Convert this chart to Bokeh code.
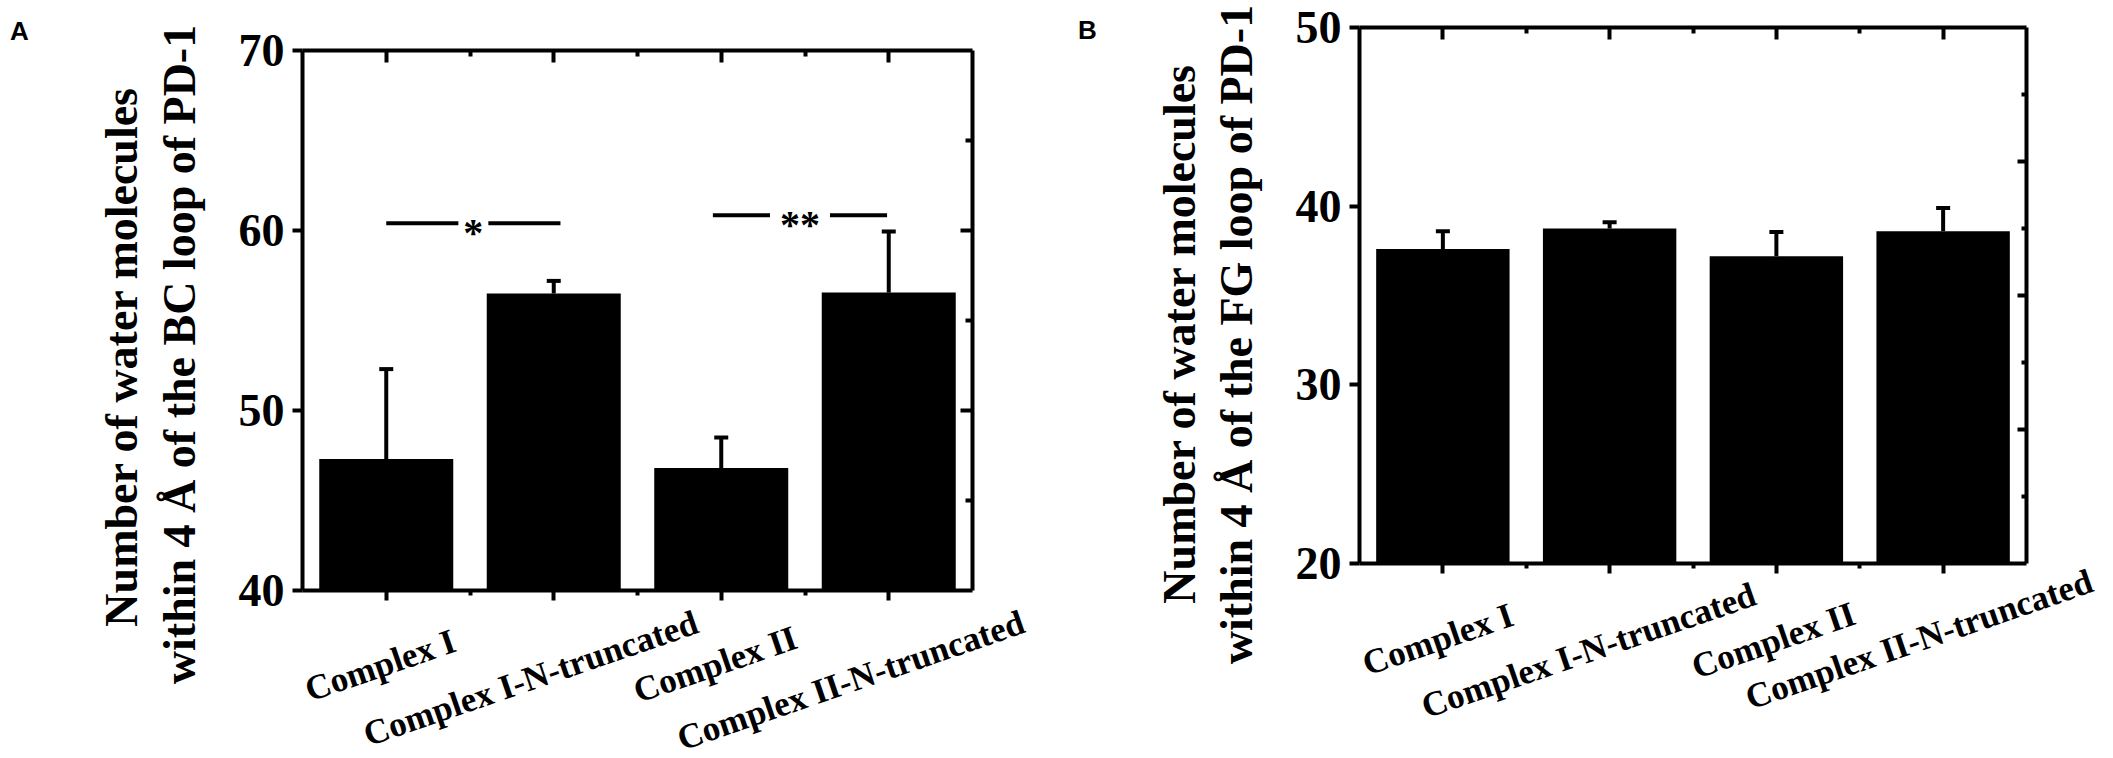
import math
from bokeh.plotting import figure
from bokeh.models import (Range1d, LinearAxis, FixedTicker, Label, Whisker, TeeHead,
                          ColumnDataSource, CustomLabelingPolicy)
from bokeh.layouts import row
from bokeh.embed import file_html
from bokeh.resources import INLINE

# ---------------- data ----------------
categories = ["Complex I", "Complex I-N-truncated", "Complex II", "Complex II-N-truncated"]

bc_means = [47.3, 56.5, 46.8, 56.55]
bc_errs = [5.0, 0.7, 1.7, 3.4]

fg_means = [37.6, 38.75, 37.2, 38.6]
fg_errs = [1.0, 0.35, 1.35, 1.3]

bc_yticks = [40, 50, 60, 70]
fg_yticks = [20, 30, 40, 50]

sig_pairs = [(1.0, 2.04), (2.95, 3.99)]
sig_levels = [60.4, 60.85]
sig_marks = ["*", "**"]

ylabel_A = ["Number of water molecules", "within 4 Å of the BC loop of PD-1"]
ylabel_B = ["Number of water molecules", "within 4 Å of the FG loop of PD-1"]

# ---------------- style ----------------
SERIF = "Liberation Serif"
SANS = "Liberation Sans"
AX_W = 4
H = 758
PAGE = 0
XR = (0.5, 4.5)


def hide_labels(ax):
    ax.major_label_text_font_size = "1px"
    ax.major_label_standoff = 0
    ax.major_label_policy = CustomLabelingPolicy(code="return")


def make_panel(fig_left, width, borders, box, yr, yticks, right_major, right_minor,
               right_in, means, errs, panel_letter, letter_side, letter_off, ylabel,
               ylab_off, xlab_offsets):
    ml, mr, mt, mb = borders
    bx0, bx1, by0, by1 = box            # page pixels of the data box (left, right, top, bottom)
    fl, fr = fig_left + ml, fig_left + width - mr
    ft, fb = PAGE + mt, PAGE + H - mb
    xu = (bx1 - bx0) / (XR[1] - XR[0])
    yu = (by1 - by0) / (yr[1] - yr[0])
    x_range = Range1d(XR[0] - (bx0 - fl) / xu, XR[1] + (fr - bx1) / xu)
    y_range = Range1d(yr[0] - (fb - by1) / yu, yr[1] + (by0 - ft) / yu)

    p = figure(width=width, height=H, x_range=x_range, y_range=y_range,
               output_backend="svg", toolbar_location=None, x_axis_type=None,
               min_border_left=ml, min_border_right=mr, min_border_top=mt,
               min_border_bottom=mb)
    p.ygrid.visible = False
    p.outline_line_color = None
    p.background_fill_color = "white"
    p.border_fill_color = "white"

    xs = list(range(1, len(categories) + 1))
    src = ColumnDataSource(dict(x=xs, top=means, up=[m + e for m, e in zip(means, errs)]))
    p.vbar(x="x", top="top", bottom=yr[0], width=0.8, source=src,
           fill_color="black", line_color=None)
    p.add_layout(Whisker(base="x", lower="top", upper="up", source=src,
                         line_color="black", line_width=AX_W,
                         upper_head=TeeHead(size=14, line_width=AX_W, line_color="black"),
                         lower_head=None))

    # axes, drawn at the edges of the data box
    # bottom axis (kept in the top panel; its "in" ticks point downward)
    bx = LinearAxis(ticker=FixedTicker(ticks=xs, minor_ticks=[1.5, 2.5, 3.5]),
                    fixed_location=yr[0], bounds=XR)
    hide_labels(bx)
    bx.major_tick_in = 10
    bx.major_tick_out = 0
    bx.minor_tick_in = 5
    bx.minor_tick_out = 0
    p.add_layout(bx, "above")

    top = LinearAxis(ticker=FixedTicker(ticks=xs, minor_ticks=[1.5, 2.5, 3.5]),
                     fixed_location=yr[1], bounds=XR)
    hide_labels(top)
    top.major_tick_in = 12
    top.major_tick_out = 0
    top.minor_tick_in = 6
    top.minor_tick_out = 0
    p.add_layout(top, "above")

    ly = p.yaxis[0]
    ly.ticker = FixedTicker(ticks=yticks, minor_ticks=[])
    ly.fixed_location = XR[0]
    ly.bounds = yr
    ly.major_tick_out = 10
    ly.major_tick_in = 0
    ly.major_label_standoff = 8
    ly.major_label_text_font = SERIF
    ly.major_label_text_font_style = "bold"
    ly.major_label_text_font_size = "46px"
    ly.major_label_text_color = "black"

    ry = LinearAxis(ticker=FixedTicker(ticks=right_major, minor_ticks=right_minor),
                    fixed_location=XR[1], bounds=yr)
    hide_labels(ry)
    ry.major_tick_in = right_in[0]
    ry.major_tick_out = 0
    ry.minor_tick_in = right_in[1]
    ry.minor_tick_out = 0
    p.add_layout(ry, "right")

    for ax in [bx, ly, top, ry]:
        ax.axis_line_width = AX_W
        ax.axis_line_color = "black"
        ax.major_tick_line_width = AX_W
        ax.minor_tick_line_width = AX_W
        ax.major_tick_line_color = "black"
        ax.minor_tick_line_color = "black"

    # rotated, staggered category labels
    for i, name in enumerate(categories):
        dx, dy = xlab_offsets[i]
        p.add_layout(Label(x=xs[i], y=yr[0], x_offset=dx, y_offset=-dy, text=name,
                           angle=math.radians(19), text_align="center",
                           text_baseline="middle", text_font=SERIF,
                           text_font_style="bold", text_font_size="35px",
                           text_color="black"))

    # y-axis title (two lines)
    ymid = (yr[0] + yr[1]) / 2
    for line, (dx, dy) in zip(ylabel, ylab_off):
        p.add_layout(Label(x=XR[0], y=ymid, x_offset=dx, y_offset=dy, text=line,
                           angle=math.pi / 2, text_align="center", text_baseline="middle",
                           text_font=SERIF, text_font_style="bold",
                           text_font_size="46px", text_color="black"))

    # panel letter (kept in a side panel so it is not clipped to the frame)
    p.add_layout(Label(x=XR[0], y=yr[1], x_offset=letter_off[0], y_offset=letter_off[1],
                       text=panel_letter, text_align="center", text_baseline="middle",
                       text_font=SANS, text_font_style="bold", text_font_size="26px",
                       text_color="black"), letter_side)
    return p


pA = make_panel(fig_left=PAGE, width=1050, borders=(80, 24, 6, 0),
                box=(302, 972, 50, 590), yr=(40, 70),
                yticks=bc_yticks, right_major=[50, 60], right_minor=[45, 55, 65],
                right_in=(12, 7), means=bc_means, errs=bc_errs, panel_letter="A",
                letter_side="right", letter_off=(-283, 20), ylabel=ylabel_A,
                ylab_off=[(-181, -36), (-123, -34)],
                xlab_offsets=[(-6, 75), (-23, 88), (-6, 74), (-38, 90)])

# significance brackets
for (x0, x1), lvl, mark, pad in zip(sig_pairs, sig_levels, sig_marks, [5, 10]):
    pA.segment(x0=[x0], y0=[lvl], x1=[x1], y1=[lvl], line_color="black", line_width=4)
    pA.add_layout(Label(x=(x0 + x1) / 2, y=lvl, y_offset=-9, text=mark,
                        text_align="center", text_baseline="alphabetic",
                        text_font=SERIF, text_font_style="bold", text_font_size="40px",
                        text_color="black", background_fill_color="white",
                        padding=pad))

pB = make_panel(fig_left=PAGE + 1050, width=1063, borders=(92, 4, 6, 0),
                box=(1359, 2026, 27, 563), yr=(20, 50),
                yticks=fg_yticks, right_major=[27.5, 35, 42.5],
                right_minor=[23.75, 31.25, 38.75, 46.25], right_in=(9, 5),
                means=fg_means, errs=fg_errs, panel_letter="B",
                letter_side="left", letter_off=(-272, -2), ylabel=ylabel_B,
                ylab_off=[(-180, -38), (-123, -39)],
                xlab_offsets=[(-5, 76), (-21, 87), (-3, 77), (-24, 76)])

layout = row(pA, pB)
open("out.html", "w").write(file_html(layout, INLINE))
